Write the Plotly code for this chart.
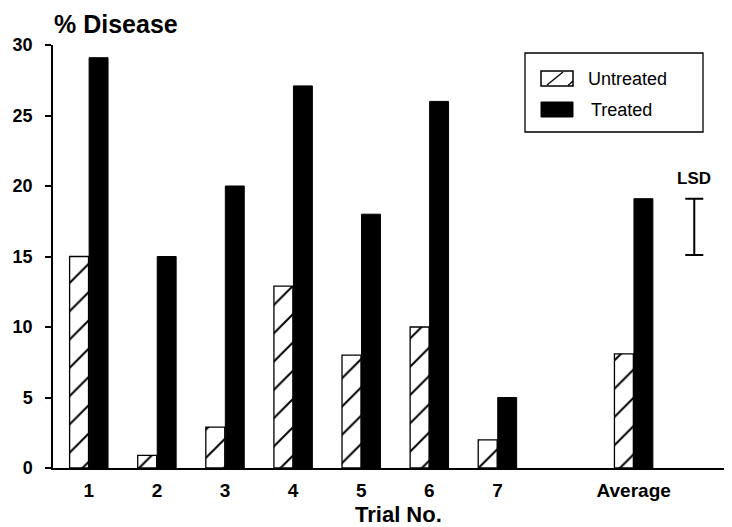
import plotly.graph_objects as go

# ---- data ----
trial_pos = [1, 2, 3, 4, 5, 6, 7, 9]
trial_labels = ["1", "2", "3", "4", "5", "6", "7", "Average"]
untreated = [15.0, 0.9, 2.9, 12.9, 8.0, 10.0, 2.0, 8.1]
treated = [29.1, 15.0, 20.0, 27.1, 18.0, 26.0, 5.0, 19.1]
lsd_x = [9.89]
lsd_low = 15.1
lsd_high = 19.1
y_ticks = [0, 5, 10, 15, 20, 25, 30]

FONT = "Liberation Sans, Arial, sans-serif"

# figure geometry (page has an 8px body margin)
W, H = 724, 519
ML, MR, MT, MB = 45, 0, 37, 59
PW, PH = W - ML - MR, H - MT - MB


def px(xp):  # page x -> paper x
    return (xp - 8 - ML) / PW


def py(yp):  # page y -> paper y
    return (H - MB - (yp - 8)) / PH


fig = go.Figure()
fig.add_trace(go.Bar(
    x=trial_pos, y=untreated, name="Untreated", showlegend=False,
    marker=dict(color="white", line=dict(color="black", width=1.3),
                pattern=dict(shape="/", fgcolor="black", bgcolor="white",
                             fgopacity=1, fillmode="replace",
                             size=20, solidity=0.1)),
))
fig.add_trace(go.Bar(
    x=trial_pos, y=treated, name="Treated", showlegend=False,
    marker=dict(color="black", line=dict(color="black", width=1)),
))
lsd_mid = (lsd_low + lsd_high) / 2
fig.add_trace(go.Scatter(
    x=lsd_x, y=[lsd_mid], mode="markers", showlegend=False,
    marker=dict(size=1, color="rgba(0,0,0,0)"),
    error_y=dict(type="data", array=[lsd_high - lsd_mid], visible=True,
                 color="black", thickness=2, width=9),
    hoverinfo="skip",
))

# LSD label
fig.add_annotation(x=lsd_x[0], y=lsd_high, yshift=20, yanchor="middle",
                   text="<b>LSD</b>", showarrow=False,
                   font=dict(family=FONT, size=17, color="black"))
# y title
fig.add_annotation(xref="paper", yref="paper", x=px(52), y=py(24),
                   xanchor="left", yanchor="middle", text="<b>% Disease</b>",
                   showarrow=False, font=dict(family=FONT, size=25, color="black"))
# x title
fig.add_annotation(xref="x", yref="paper", x=5.55, y=py(514),
                   xanchor="center", yanchor="middle", text="<b>Trial No.</b>",
                   showarrow=False, font=dict(family=FONT, size=22, color="black"))

# legend (box, swatches, labels)
shapes = [
    dict(type="rect", xref="paper", yref="paper", x0=px(525), x1=px(703),
         y0=py(132), y1=py(53), line=dict(color="black", width=1.3),
         fillcolor="white", layer="below"),
    dict(type="rect", xref="paper", yref="paper", x0=px(541), x1=px(573),
         y0=py(86), y1=py(71), line=dict(color="black", width=1.5),
         fillcolor="white"),
    dict(type="line", xref="paper", yref="paper", x0=px(547), x1=px(563),
         y0=py(85), y1=py(72), line=dict(color="black", width=1.3)),
    dict(type="line", xref="paper", yref="paper", x0=px(568), x1=px(573),
         y0=py(85.5), y1=py(81), line=dict(color="black", width=1.3)),
    dict(type="rect", xref="paper", yref="paper", x0=px(541), x1=px(573),
         y0=py(117), y1=py(102), line=dict(color="black", width=1),
         fillcolor="black"),
]
fig.add_annotation(xref="paper", yref="paper", x=px(586), y=py(79.5),
                   xanchor="left", yanchor="middle", text="Untreated",
                   showarrow=False, font=dict(family=FONT, size=18, color="black"))
fig.add_annotation(xref="paper", yref="paper", x=px(589), y=py(110.5),
                   xanchor="left", yanchor="middle", text="Treated",
                   showarrow=False, font=dict(family=FONT, size=18, color="black"))

fig.update_layout(
    width=W, height=H,
    margin=dict(l=ML, r=MR, t=MT, b=MB, pad=0),
    paper_bgcolor="white", plot_bgcolor="white",
    barmode="group", bargap=0.427, bargroupgap=0.03,
    font=dict(family=FONT, color="black"),
    showlegend=False,
    shapes=shapes,
    xaxis=dict(range=[0.474, 10.444], tickmode="array", tickvals=trial_pos,
               ticktext=[f"<b>{t}</b>" for t in trial_labels],
               showline=True, linecolor="black", linewidth=1.5,
               ticks="", showgrid=False, zeroline=False,
               tickfont=dict(family=FONT, size=19), ticklabelstandoff=4),
    yaxis=dict(range=[0, 30], tickmode="array", tickvals=y_ticks,
               ticktext=[f"<b>{v}</b>" for v in y_ticks],
               showline=True, linecolor="black", linewidth=1.5,
               ticks="outside", ticklen=6, tickwidth=1.5, tickcolor="black",
               showgrid=False, zeroline=False,
               tickfont=dict(family=FONT, size=18), ticklabelstandoff=9),
)

fig.write_html("out.html")
